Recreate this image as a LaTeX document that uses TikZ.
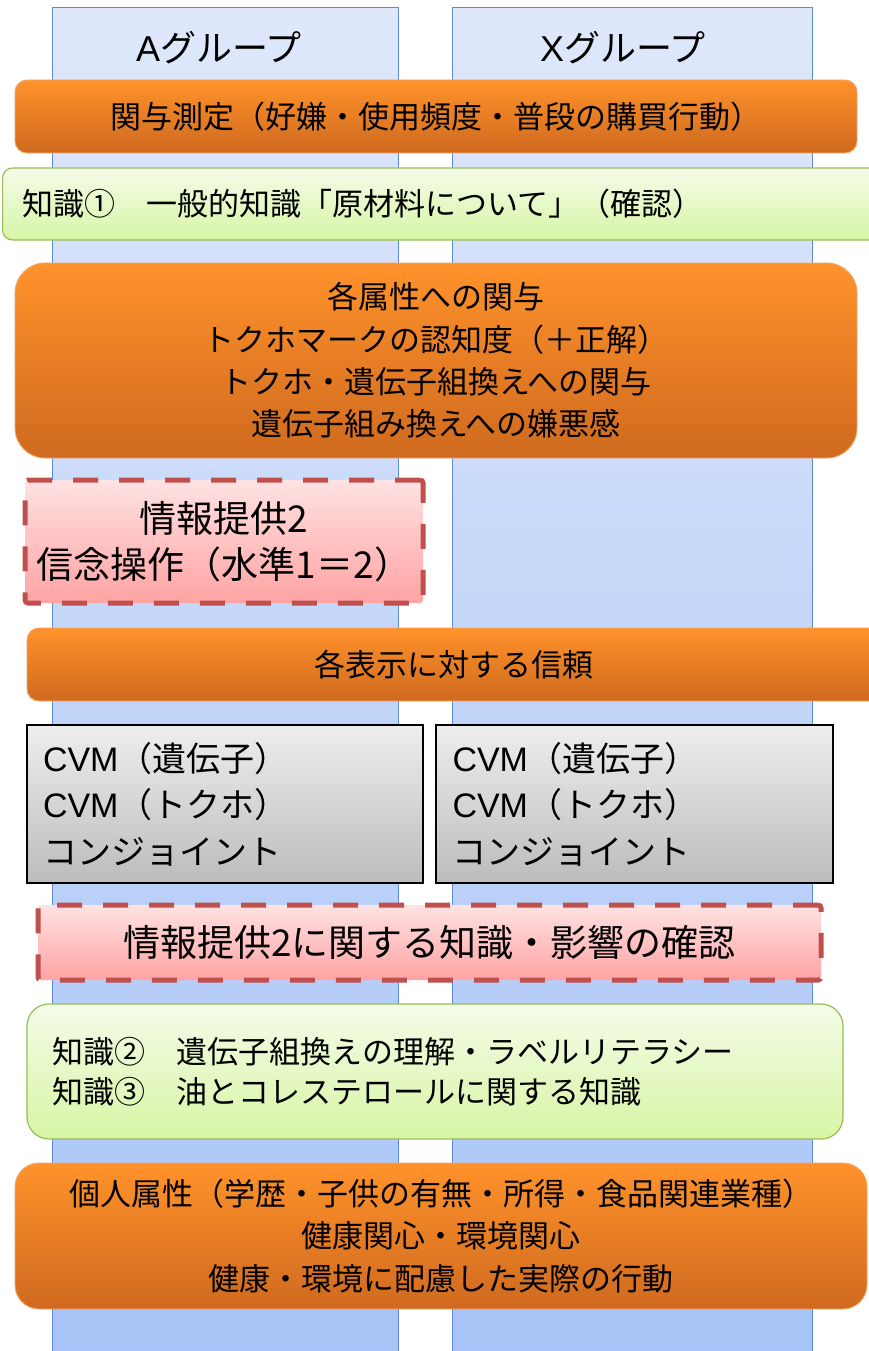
\documentclass[tikz,border=0pt]{standalone}
\usepackage{fontspec}
\setmainfont{Noto Sans CJK JP}
\newfontfamily\latinfont{Liberation Sans}
\definecolor{colTop}{HTML}{DFE8FB}
\definecolor{colBot}{HTML}{A6C3F7}
\definecolor{colLine}{HTML}{5B8BD0}
\definecolor{orTop}{HTML}{FF922B}
\definecolor{orBot}{HTML}{CF6A1F}
\definecolor{orLine}{HTML}{F5A566}
\definecolor{grTop}{HTML}{F4FCE8}
\definecolor{grBot}{HTML}{D7F5A5}
\definecolor{grLine}{HTML}{9BBB59}
\definecolor{pkTop}{HTML}{FFE2E2}
\definecolor{pkBot}{HTML}{FFA3A3}
\definecolor{pkLine}{HTML}{C0504D}
\definecolor{gyTop}{HTML}{EEEEEE}
\definecolor{gyBot}{HTML}{BCBCBC}
\tikzset{
  groupcol/.style={rectangle, draw=colLine, line width=1.2pt, top color=colTop, bottom color=colBot, inner sep=0pt, anchor=north west},
  headtext/.style={font=\fontsize{36}{40}\selectfont, inner sep=0pt},
  orangebox/.style={rectangle, rounded corners=#1, draw=orLine, line width=0.9pt, top color=orTop, bottom color=orBot, inner sep=0pt, align=center, font=\fontsize{31}{42.3}\selectfont},
  greenbox/.style={rectangle, rounded corners=#1, draw=grLine, line width=1.2pt, top color=grTop, bottom color=grBot, inner ysep=0pt, align=left, font=\fontsize{31}{40}\selectfont},
  pinkbox/.style={rectangle, rounded corners=3pt, draw=pkLine, line width=5pt, dash pattern=on 25pt off 21pt, top color=pkTop, bottom color=pkBot, inner sep=0pt, align=center, font=\fontsize{37}{46}\selectfont},
  graybox/.style={rectangle, draw=black, line width=1.4pt, top color=gyTop, bottom color=gyBot, inner ysep=0pt, align=left, font=\fontsize{34}{46.5}\selectfont},
}
\begin{document}
\begin{tikzpicture}[x=1pt, y=-1pt]
\useasboundingbox (0,0) rectangle (869,1351);
\clip (0,0) rectangle (869,1351);
% group columns
\node[groupcol, minimum width=346pt, minimum height=1360pt] (colA) at (52,7) {};
\node[groupcol, minimum width=360pt, minimum height=1360pt] (colX) at (452,7) {};
\node[headtext] (headA) at (219,48) {{\latinfont A}グループ};
\node[headtext] (headX) at (623,48) {{\latinfont X}グループ};
% boxes
\node[orangebox=12pt, minimum width=842pt, minimum height=73pt] (kanyo) at (436,116.5)
  {関与測定（好嫌・使用頻度・普段の購買行動）};
\node[greenbox=10pt, anchor=west, text width=840pt, inner xsep=20pt, minimum height=72pt] (chishiki1) at (2,204)
  {知識①　一般的知識「原材料について」（確認）};
\node[orangebox=30pt, minimum width=842pt, minimum height=195pt] (zokusei) at (436,360.5)
  {各属性への関与\\トクホマークの認知度（＋正解）\\トクホ・遺伝子組換えへの関与\\遺伝子組み換えへの嫌悪感};
\node[pinkbox, minimum width=398pt, minimum height=123pt] (joho) at (224,541.5)
  {情報提供2\\信念操作（水準1＝2）};
\node[orangebox=12pt, minimum width=854pt, minimum height=73pt] (shinrai) at (454,664.5)
  {各表示に対する信頼};
\node[graybox, text width=364pt, inner xsep=16pt, minimum height=158pt] (cvmA) at (225,804)
  {{\latinfont CVM}（遺伝子）\\{\latinfont CVM}（トクホ）\\コンジョイント};
\node[graybox, text width=364pt, inner xsep=16.5pt, minimum height=158pt] (cvmX) at (634.5,804)
  {{\latinfont CVM}（遺伝子）\\{\latinfont CVM}（トクホ）\\コンジョイント};
\node[pinkbox, minimum width=783pt, minimum height=75pt] (kakunin) at (429.5,942.5)
  {情報提供2に関する知識・影響の確認};
\node[greenbox=22pt, text width=766pt, inner xsep=25pt, minimum height=135pt] (chishiki23) at (435,1071.5)
  {知識②　遺伝子組換えの理解・ラベルリテラシー\\知識③　油とコレステロールに関する知識};
\node[orangebox=24pt, minimum width=852pt, minimum height=146pt] (kojin) at (441,1236)
  {個人属性（学歴・子供の有無・所得・食品関連業種）\\健康関心・環境関心\\健康・環境に配慮した実際の行動};
\end{tikzpicture}
\end{document}
